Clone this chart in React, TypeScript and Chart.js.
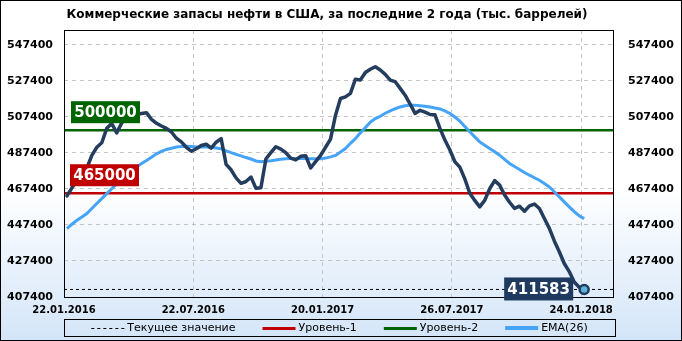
import React, { useEffect, useRef } from 'react';
import { Chart, registerables } from 'chart.js';

Chart.register(...registerables);

const TITLE = 'Коммерческие запасы нефти в США, за последние 2 года (тыс. баррелей)';
const DATE_TICKS = ['22.01.2016', '22.07.2016', '20.01.2017', '26.07.2017', '24.01.2018'];
const DATE_TICK_WEEKS = [0, 26, 52, 78, 104];
const Y_TICKS = [407400, 427400, 447400, 467400, 487400, 507400, 527400, 547400];
const Y_MIN = 407400;
const Y_MAX = 555600;
const X_MAX_WEEKS = 110.4;
const WEEK_SHIFT = 0.6;

// weekly commercial crude stocks (thousand barrels)
const STOCKS = [
  463500, 468000, 472000, 476000, 479000, 486000, 490500, 493000, 501000, 503700,
  498500, 504000, 506500, 507800, 508800, 509300, 509700, 506000, 503800, 502300,
  501000, 499000, 495500, 493500, 490500, 488300, 489700, 491500, 492200, 490000,
  493300, 495300, 481000, 478000, 473500, 470500, 471500, 474000, 467700, 468000,
  484000, 487500, 490800, 489500, 487500, 484500, 483500, 485500, 485800, 479000,
  482500, 486000, 490500, 495000, 508300, 517600, 518500, 520400, 528300, 527800,
  532000, 533800, 535200, 533400, 531000, 527800, 526900, 523200, 519400, 514500,
  509300, 511000, 510000, 508700, 508500, 501000, 494500, 489000, 482500, 479500,
  473000, 465000, 461000, 457400, 461000, 467500, 472000, 469500, 464000, 460000,
  456600, 457800, 455000, 458000, 459000, 456500, 451000, 445500, 438500, 432500,
  426000, 421500, 415700, 412800, 411583,
];

const EMA26 = [
  445400, 447800, 450000, 451800, 453700, 456500, 459300, 462000, 464800, 467500,
  470200, 472300, 474700, 477300, 479500, 481500, 483200, 485000, 486900, 488200,
  489300, 490000, 490700, 491000, 491100, 490900, 490700, 490700, 490700, 490500,
  490100, 489700, 488500, 487500, 486600, 485700, 484800, 484000, 482900, 482500,
  482700, 483000, 483400, 483800, 484100, 484300, 484300, 484300, 484300, 484200,
  484100, 484100, 484500, 485200, 486000, 487900, 489800, 492700, 495300, 498500,
  501400, 504400, 506400, 507700, 509400, 510700, 511900, 512900, 513500, 513900,
  513900, 513600, 513300, 512900, 512300, 511800, 510700, 509300, 507300, 505000,
  502000, 499100, 496300, 493500, 491600, 489800, 488000, 486100, 483800, 481500,
  479800, 478200, 476500, 475000, 473600, 472200, 470400, 468500, 465800, 463000,
  460200, 457400, 454800, 452500, 450900,
];

const LEVEL_1 = 465000;
const LEVEL_2 = 500000;
const CURRENT = STOCKS[STOCKS.length - 1];
const LEGEND_LABELS = ['Текущее значение', 'Уровень-1', 'Уровень-2', 'EMA(26)'];

const C_MAIN = '#243d5e';
const C_EMA = '#45a4f7';
const C_RED = '#c00000';
const C_GREEN = '#006400';
const C_LABEL = '#1e3a5f';
const C_GRID = '#c4c4c4';

const FONT_AXIS = '"DejaVu Sans", sans-serif';

const decorPlugin = {
  id: 'decor',
  beforeDraw(chart: any) {
    const { ctx, width, height } = chart;
    ctx.save();
    const g = ctx.createLinearGradient(0, 0, 0, height);
    g.addColorStop(0, '#ffffff');
    g.addColorStop(0.55, '#ffffff');
    g.addColorStop(1, '#d3e5f8');
    ctx.fillStyle = g;
    ctx.fillRect(0, 0, width, height);
    ctx.strokeStyle = '#000';
    ctx.lineWidth = 1;
    ctx.strokeRect(0.5, 0.5, width - 1, height - 1);
    ctx.font = 'bold 12px ' + FONT_AXIS;
    ctx.fillStyle = '#000';
    ctx.textAlign = 'center';
    ctx.textBaseline = 'middle';
    ctx.fillText(TITLE, 327, 15);
    ctx.restore();
  },
  afterDatasetsDraw(chart: any) {
    const { ctx, chartArea } = chart;
    const ys = chart.scales.y;
    const xs = chart.scales.x;
    ctx.save();
    ctx.strokeStyle = '#000';
    ctx.lineWidth = 1;
    ctx.setLineDash([]);
    ctx.strokeRect(
      Math.round(chartArea.left) + 0.5,
      Math.round(chartArea.top) + 0.5,
      Math.round(chartArea.right - chartArea.left),
      Math.round(chartArea.bottom - chartArea.top)
    );

    const drawBox = (text: string, fill: string, left: number, top: number, w: number, h: number) => {
      ctx.fillStyle = fill;
      ctx.fillRect(left, top, w, h);
      ctx.font = 'bold 15px ' + FONT_AXIS;
      ctx.fillStyle = '#fff';
      ctx.textAlign = 'center';
      ctx.textBaseline = 'middle';
      ctx.fillText(text, left + w / 2, top + h / 2 + 1);
    };
    const bw = 69;
    const bh = 22;
    const y2 = ys.getPixelForValue(LEVEL_2);
    drawBox(String(LEVEL_2), C_GREEN, chartArea.left + 7, y2 - 7 - bh, bw, bh);
    const y1 = ys.getPixelForValue(LEVEL_1);
    drawBox(String(LEVEL_1), C_RED, chartArea.left + 6, y1 - 7 - bh, bw, bh);
    const yc = ys.getPixelForValue(CURRENT);
    const xc = xs.getPixelForValue(STOCKS.length - 1 + WEEK_SHIFT);
    drawBox(String(CURRENT), C_LABEL, xc - 11 - bw, yc - 12, bw, 23);
    ctx.restore();
  },
  afterDraw(chart: any) {
    const { ctx, chartArea, height } = chart;
    ctx.save();
    const items = [
      { label: LEGEND_LABELS[0], color: '#000', width: 1, dash: [3, 3] },
      { label: LEGEND_LABELS[1], color: C_RED, width: 3, dash: [] },
      { label: LEGEND_LABELS[2], color: C_GREEN, width: 3, dash: [] },
      { label: LEGEND_LABELS[3], color: C_EMA, width: 4, dash: [] },
    ];
    const boxL = Math.round(chartArea.left);
    const boxR = Math.round(chartArea.right) + 2;
    const boxTop = height - 22;
    const boxH = 17;
    ctx.strokeStyle = '#000';
    ctx.lineWidth = 1;
    ctx.strokeRect(boxL + 0.5, boxTop + 0.5, boxR - boxL, boxH);
    ctx.font = '11px ' + FONT_AXIS;
    const lineW = 33;
    const gap = 3;
    const spacing = 27;
    const widths = items.map((it) => lineW + gap + ctx.measureText(it.label).width);
    const total = widths.reduce((a, b) => a + b, 0) + spacing * (items.length - 1);
    let x = (boxL + boxR) / 2 - total / 2;
    const yMid = boxTop + boxH / 2 + 0.5;
    items.forEach((it, i) => {
      ctx.beginPath();
      ctx.strokeStyle = it.color;
      ctx.lineWidth = it.width;
      ctx.setLineDash(it.dash);
      ctx.moveTo(x, Math.round(yMid) + (it.width % 2 ? 0.5 : 0));
      ctx.lineTo(x + lineW, Math.round(yMid) + (it.width % 2 ? 0.5 : 0));
      ctx.stroke();
      ctx.setLineDash([]);
      ctx.fillStyle = '#000';
      ctx.textAlign = 'left';
      ctx.textBaseline = 'middle';
      ctx.fillText(it.label, x + lineW + gap, yMid);
      x += widths[i] + spacing;
    });
    ctx.restore();
  },
};

export default function App() {
  const ref = useRef<HTMLCanvasElement | null>(null);

  useEffect(() => {
    if (!ref.current) return;
    const lastIdx = STOCKS.length - 1;
    const flat = (v: number) => [
      { x: 0, y: v },
      { x: X_MAX_WEEKS, y: v },
    ];
    const yTickOpts = (padding: number) => ({
      font: { family: FONT_AXIS, size: 11, weight: 'bold' as const },
      color: '#000',
      padding,
      callback: (v: any) => String(v),
    });
    const chart = new Chart(ref.current, {
      type: 'line',
      data: {
        datasets: [
          {
            label: 'stocks',
            data: STOCKS.map((v, i) => ({ x: i + WEEK_SHIFT, y: v })),
            borderColor: C_MAIN,
            borderWidth: 3.5,
            borderJoinStyle: 'round',
            borderCapStyle: 'round',
            tension: 0,
            pointRadius: (c: any) => (c.dataIndex === lastIdx ? 4.5 : 0),
            pointBackgroundColor: '#5db4d6',
            pointBorderColor: C_LABEL,
            pointBorderWidth: 2.5,
            order: 0,
          },
          {
            label: LEGEND_LABELS[3],
            data: EMA26.map((v, i) => ({ x: i + WEEK_SHIFT, y: v })),
            borderColor: C_EMA,
            borderWidth: 3,
            pointRadius: 0,
            tension: 0,
            order: 1,
          },
          {
            label: LEGEND_LABELS[2],
            data: flat(LEVEL_2),
            borderColor: C_GREEN,
            borderWidth: 2.5,
            pointRadius: 0,
            order: 2,
          },
          {
            label: LEGEND_LABELS[1],
            data: flat(LEVEL_1),
            borderColor: C_RED,
            borderWidth: 2.5,
            pointRadius: 0,
            order: 3,
          },
          {
            label: LEGEND_LABELS[0],
            data: flat(CURRENT),
            borderColor: '#000',
            borderWidth: 1,
            borderDash: [3, 3],
            pointRadius: 0,
            order: 4,
          },
        ],
      },
      options: {
        responsive: false,
        animation: false,
        events: [],
        layout: { padding: { top: 30, bottom: 24, left: 0, right: 0 } },
        plugins: {
          legend: { display: false },
          title: { display: false },
          tooltip: { enabled: false },
        },
        scales: {
          x: {
            type: 'linear',
            min: 0,
            max: X_MAX_WEEKS,
            afterBuildTicks: (s: any) => {
              s.ticks = DATE_TICK_WEEKS.map((v) => ({ value: v }));
            },
            afterFit: (s: any) => {
              s.height = 20;
            },
            ticks: {
              autoSkip: false,
              maxRotation: 0,
              padding: 7,
              font: { family: FONT_AXIS, size: 10, weight: 'bold' },
              color: '#000',
              callback: (v: any) => {
                const k = DATE_TICK_WEEKS.indexOf(Number(v));
                return k >= 0 ? DATE_TICKS[k] : '';
              },
            },
            grid: {
              drawTicks: false,
              color: (c: any) => (c.tick && c.tick.value === 0 ? 'rgba(0,0,0,0)' : C_GRID),
            },
            border: { display: false, dash: [4, 4] },
          },
          y: {
            position: 'left',
            min: Y_MIN,
            max: Y_MAX,
            afterBuildTicks: (s: any) => {
              s.ticks = Y_TICKS.map((v) => ({ value: v }));
            },
            afterFit: (s: any) => {
              s.width = 64;
            },
            ticks: yTickOpts(11),
            grid: { drawTicks: false, color: C_GRID },
            border: { display: false, dash: [4, 4] },
          },
          y2: {
            position: 'right',
            min: Y_MIN,
            max: Y_MAX,
            afterBuildTicks: (s: any) => {
              s.ticks = Y_TICKS.map((v) => ({ value: v }));
            },
            afterFit: (s: any) => {
              s.width = 69;
            },
            ticks: yTickOpts(15),
            grid: { display: false, drawTicks: false },
            border: { display: false },
          },
        },
      },
      plugins: [decorPlugin],
    } as any);
    return () => chart.destroy();
  }, []);

  return (
    <div style={{ position: 'absolute', left: 0, top: 0, width: 682, height: 341 }}>
      <canvas ref={ref} width={682} height={341} style={{ width: 682, height: 341, display: 'block' }} />
    </div>
  );
}
